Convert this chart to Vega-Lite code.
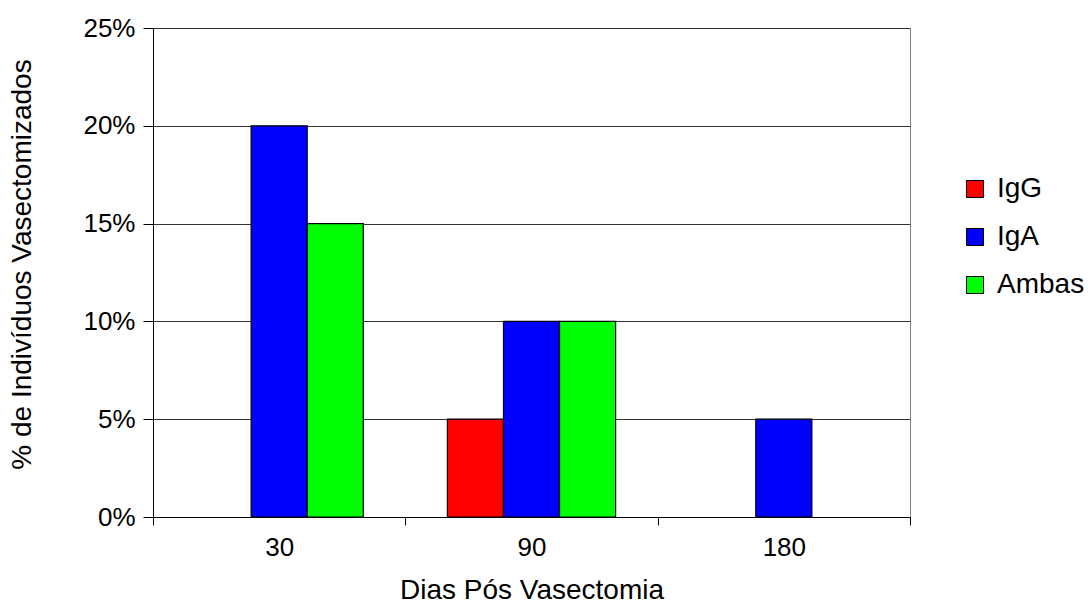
{
  "$schema": "https://vega.github.io/schema/vega-lite/v6.json",
  "width": 757,
  "height": 489,
  "autosize": {"type": "none"},
  "padding": {"left": 153, "top": 28, "right": 178, "bottom": 88},
  "background": "white",
  "config": {
    "font": "Liberation Sans",
    "view": {"stroke": "#808080", "strokeWidth": 1},
    "axis": {"labelColor": "black", "titleColor": "black", "labelFontWeight": "normal", "titleFontWeight": "normal"}
  },
  "data": {
    "values": [
      {"dias": "30", "tipo": "IgA", "pct": 0.20},
      {"dias": "30", "tipo": "Ambas", "pct": 0.15},
      {"dias": "90", "tipo": "IgG", "pct": 0.05},
      {"dias": "90", "tipo": "IgA", "pct": 0.10},
      {"dias": "90", "tipo": "Ambas", "pct": 0.10},
      {"dias": "180", "tipo": "IgA", "pct": 0.05}
    ]
  },
  "mark": {"type": "bar", "stroke": "black", "strokeWidth": 1.2, "strokeOpacity": 1},
  "encoding": {
    "x": {
      "field": "dias", "type": "nominal", "sort": ["30", "90", "180"],
      "scale": {"paddingInner": 0, "paddingOuter": 0},
      "axis": {
        "title": "Dias Pós Vasectomia", "titleFontSize": 28, "titlePadding": 16,
        "labelFontSize": 26, "labelAngle": 0, "labelPadding": 9,
        "tickBand": "extent", "tickSize": 8, "tickColor": "black", "domainColor": "black",
        "grid": false
      }
    },
    "xOffset": {
      "field": "tipo", "type": "nominal", "sort": ["IgG", "IgA", "Ambas"],
      "scale": {"paddingInner": 0, "paddingOuter": 0.75}
    },
    "y": {
      "field": "pct", "type": "quantitative",
      "scale": {"domain": [0, 0.25], "nice": false},
      "axis": {
        "title": "% de Indivíduos Vasectomizados", "titleFontSize": 28, "titlePadding": 46, "titleY": 236,
        "labelFontSize": 26, "labelPadding": 8, "format": ".0%", "values": [0, 0.05, 0.1, 0.15, 0.2, 0.25],
        "tickSize": 10, "tickColor": "black", "domainColor": "black",
        "grid": true, "gridColor": "#333333", "gridOpacity": 1, "gridWidth": 1
      }
    },
    "color": {
      "field": "tipo", "type": "nominal", "sort": ["IgG", "IgA", "Ambas"],
      "scale": {"domain": ["IgG", "IgA", "Ambas"], "range": ["#ff0000", "#0000ff", "#00ff00"]},
      "legend": {
        "title": null, "orient": "none", "legendX": 808, "legendY": 147,
        "symbolType": "square", "symbolSize": 289, "symbolStrokeColor": "black", "symbolStrokeWidth": 1,
        "symbolOpacity": 1,
        "labelFontSize": 28, "labelColor": "black", "rowPadding": 20, "labelOffset": 8
      }
    }
  }
}
